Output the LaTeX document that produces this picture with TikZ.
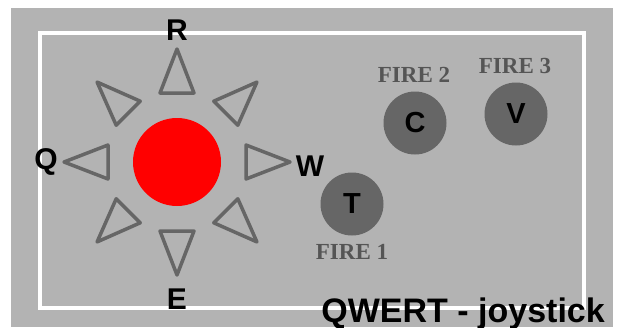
\documentclass[tikz,border=0pt]{standalone}
\usepackage{fontspec}
\setmainfont{Liberation Sans}
\newfontfamily\firefont{Liberation Serif}
\usepackage{tikz}

\definecolor{bggray}{RGB}{179,179,179}
\definecolor{btngray}{RGB}{102,102,102}
\definecolor{labelgray}{RGB}{85,85,85}

\begin{document}
\begin{tikzpicture}[x=1pt,y=-1pt]
\tikzstyle{every node}+=[inner sep=0pt]
\tikzstyle{dirkey}=[font=\fontsize{30}{32}\selectfont\bfseries]
\tikzstyle{firebtn}=[circle, fill=btngray, minimum size=63pt, font=\fontsize{29}{31}\selectfont\bfseries]
\tikzstyle{firelabel}=[text=labelgray, font=\fontsize{23}{25}\selectfont\firefont\bfseries]
\useasboundingbox (0,0) rectangle (618,327);
\fill [white] (0,0) rectangle (618,327);
\fill [bggray] (11,8) rectangle (613,327);
\draw [white, line width=4pt] (39.5,33) rectangle (584,308);
% stick and its eight directions
\node [circle, fill=red, minimum size=88pt] (stick) at (177,162) {};
\foreach \a in {0,45,...,315}
  \draw [btngray, line width=3.5pt, line join=round, shift={(177,162)}, rotate=\a]
    (113,0) -- (69,-17) -- (69,17) -- cycle;
\node [dirkey] (R) at (177,30) {R};
\node [dirkey] (Q) at (46,162) {Q};
\node [dirkey] (W) at (310,166) {W};
\node [dirkey] (E) at (177,299) {E};
% fire buttons
\node [firebtn] (fire1) at (352,204) {T};
\node [firebtn] (fire2) at (415,123) {C};
\node [firebtn] (fire3) at (516,114) {V};
\node [firelabel] (fire1 label) at (352,252) {FIRE 1};
\node [firelabel] (fire2 label) at (414,75) {FIRE 2};
\node [firelabel] (fire3 label) at (515,66) {FIRE 3};
\node [anchor=base east, font=\fontsize{34}{36}\selectfont\bfseries] (title) at (605,322) {QWERT - joystick};
\end{tikzpicture}
\end{document}
